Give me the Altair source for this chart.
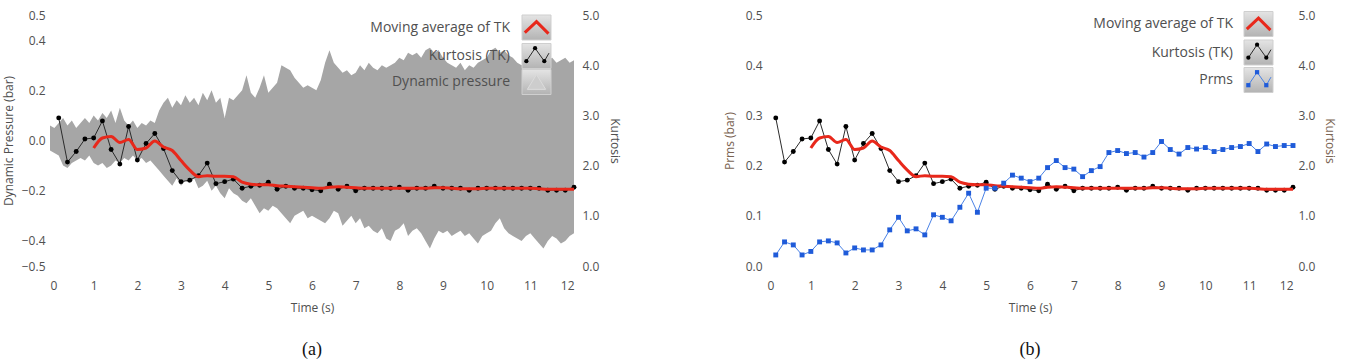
import altair as alt
import pandas as pd

# ---- data -------------------------------------------------------------
# Kurtosis of the pressure signal, one value every 0.2 s
tk_time = [round(0.2 * i, 1) for i in range(1, 61)]
tk_values = [
    2.95, 2.07, 2.28, 2.53, 2.55, 2.89, 2.32, 2.03, 2.78, 2.11,
    2.44, 2.64, 2.34, 1.90, 1.68, 1.71, 1.80, 2.05, 1.64, 1.68,
    1.73, 1.55, 1.59, 1.61, 1.67, 1.53, 1.59, 1.55, 1.55, 1.52,
    1.50, 1.63, 1.53, 1.59, 1.50, 1.55, 1.55, 1.55, 1.55, 1.57,
    1.51, 1.55, 1.55, 1.59, 1.55, 1.55, 1.55, 1.51, 1.55, 1.55,
    1.55, 1.55, 1.55, 1.55, 1.55, 1.55, 1.51, 1.51, 1.51, 1.57,
]

# Moving average of the kurtosis, from 1.0 s onwards
ma_time = [round(1.0 + 0.2 * i, 1) for i in range(56)]
ma_values = [
    2.35, 2.55, 2.58, 2.46, 2.52, 2.32, 2.35, 2.49, 2.37, 2.30,
    2.10, 1.91, 1.78, 1.80, 1.79, 1.79, 1.78, 1.67, 1.63, 1.62,
    1.62, 1.60, 1.59, 1.58, 1.57, 1.56, 1.55, 1.57, 1.58, 1.57,
    1.56, 1.55, 1.55, 1.55, 1.55, 1.55, 1.55, 1.55, 1.55, 1.56,
    1.56, 1.55, 1.54, 1.54, 1.54, 1.55, 1.55, 1.55, 1.55, 1.55,
    1.55, 1.54, 1.53, 1.53, 1.53, 1.53,
]

# RMS pressure (bar), same 0.2 s steps as the kurtosis
prms_values = [
    0.022, 0.048, 0.042, 0.022, 0.029, 0.048, 0.050, 0.046, 0.026, 0.036,
    0.032, 0.032, 0.042, 0.072, 0.097, 0.070, 0.074, 0.062, 0.102, 0.097,
    0.090, 0.117, 0.145, 0.107, 0.155, 0.155, 0.165, 0.181, 0.175, 0.168,
    0.175, 0.196, 0.210, 0.196, 0.193, 0.178, 0.190, 0.198, 0.226, 0.230,
    0.224, 0.226, 0.217, 0.226, 0.248, 0.232, 0.223, 0.236, 0.233, 0.236,
    0.228, 0.232, 0.236, 0.238, 0.244, 0.228, 0.243, 0.238, 0.240, 0.240,
]

# Envelope of the dynamic pressure trace (bar), every 0.1 s
env_time = [round(0.1 * i, 1) for i in range(121)]
env_upper = [
    0.06, 0.05, 0.07, 0.09, 0.06, 0.08, 0.05, 0.07, 0.09, 0.07,
    0.10, 0.08, 0.11, 0.09, 0.12, 0.07, 0.13, 0.08, 0.06, 0.08,
    0.05, 0.07, 0.06, 0.08, 0.07, 0.12, 0.15, 0.17, 0.13, 0.16,
    0.14, 0.18, 0.15, 0.17, 0.14, 0.19, 0.16, 0.20, 0.15, 0.17,
    0.09, 0.17, 0.16, 0.18, 0.20, 0.26, 0.19, 0.17, 0.21, 0.26,
    0.19, 0.21, 0.23, 0.30, 0.29, 0.28, 0.25, 0.23, 0.21, 0.22,
    0.21, 0.20, 0.24, 0.31, 0.36, 0.31, 0.29, 0.27, 0.28, 0.26,
    0.27, 0.30, 0.28, 0.31, 0.29, 0.28, 0.30, 0.29, 0.30, 0.31,
    0.33, 0.32, 0.35, 0.34, 0.35, 0.33, 0.36, 0.37, 0.35, 0.36,
    0.33, 0.31, 0.30, 0.29, 0.31, 0.28, 0.30, 0.29, 0.31, 0.32,
    0.33, 0.36, 0.37, 0.35, 0.36, 0.34, 0.33, 0.31, 0.30, 0.32,
    0.31, 0.33, 0.32, 0.30, 0.32, 0.33, 0.31, 0.32, 0.33, 0.31,
    0.32,
]
env_lower = [
    -0.04, -0.05, -0.06, -0.10, -0.11, -0.09, -0.08, -0.07, -0.08, -0.06,
    -0.09, -0.10, -0.09, -0.11, -0.10, -0.08, -0.09, -0.07, -0.08, -0.06,
    -0.08, -0.07, -0.09, -0.08, -0.10, -0.12, -0.14, -0.16, -0.18, -0.15,
    -0.18, -0.16, -0.17, -0.15, -0.19, -0.18, -0.16, -0.20, -0.18, -0.21,
    -0.23, -0.19, -0.21, -0.22, -0.24, -0.25, -0.23, -0.26, -0.29, -0.27,
    -0.28, -0.26, -0.27, -0.29, -0.31, -0.33, -0.30, -0.29, -0.28, -0.31,
    -0.30, -0.31, -0.32, -0.33, -0.31, -0.28, -0.29, -0.34, -0.32, -0.30,
    -0.33, -0.31, -0.35, -0.34, -0.36, -0.37, -0.35, -0.39, -0.40, -0.36,
    -0.35, -0.33, -0.38, -0.36, -0.35, -0.37, -0.40, -0.43, -0.39, -0.36,
    -0.37, -0.36, -0.38, -0.37, -0.36, -0.38, -0.37, -0.39, -0.41, -0.38,
    -0.37, -0.36, -0.33, -0.31, -0.35, -0.37, -0.38, -0.39, -0.40, -0.38,
    -0.37, -0.39, -0.41, -0.43, -0.40, -0.38, -0.39, -0.41, -0.40, -0.38,
    -0.37,
]

tk_df = pd.DataFrame({"t": tk_time, "k": tk_values, "prms": prms_values})
ma_df = pd.DataFrame({"t": ma_time, "k": ma_values})
env_df = pd.DataFrame({"t": env_time, "upper": env_upper, "lower": env_lower})
one = pd.DataFrame({"n": [0]})

# ---- styling ------------------------------------------------------------
FONT = "Open Sans"
TXT = "#505050"
GREY = "#a6a6a6"
RED = "#e8281b"
BLUE = "#1f5bd9"
BLUE_LINE = "#4a82e6"

x_enc = alt.X(
    "t:Q",
    scale=alt.Scale(domain=[0, 12], nice=False, zero=True),
    axis=alt.Axis(values=list(range(13)), format="d", title="Time (s)",
                  labelPadding=14, titlePadding=11),
)

kurt_scale = alt.Scale(domain=[0, 5], nice=False, zero=True)


def kurtosis_layers(title_color, label_pad, title_pad):
    kurt_axis = alt.Axis(orient="right", values=[0, 1, 2, 3, 4, 5], format=".1f",
                         title="Kurtosis", labelPadding=label_pad, titlePadding=title_pad,
                         titleColor=title_color)
    y_tk = alt.Y("k:Q", scale=kurt_scale, axis=kurt_axis)
    y_pts = alt.Y("k:Q", scale=kurt_scale, axis=None)
    tk_line = alt.Chart(tk_df).mark_line(color="#2b2b2b", strokeWidth=1).encode(x=x_enc, y=y_tk)
    tk_pts = alt.Chart(tk_df).mark_point(filled=True, color="#000000", size=24, opacity=1).encode(x=x_enc, y=y_pts)
    ma_line = alt.Chart(ma_df).mark_line(color=RED, strokeWidth=3, interpolate="monotone").encode(x=x_enc, y=y_pts)
    return [tk_line, tk_pts, ma_line]


box_fill = alt.Gradient(
    gradient="linear", x1=0, x2=0, y1=0, y2=1,
    stops=[alt.GradientStop(color="#e4e4e4", offset=0),
           alt.GradientStop(color="#b3b3b3", offset=1)],
)

CHEVRON = "M-0.9,0.4L0,-0.45L0.92,0.47"
ZIGZAG = "M-0.78,0.4L-0.11,-0.6L0.6,0.4L0.96,-0.22"
TRIANGLE = "M-0.75,0.6L0,-0.6L0.75,0.6Z"


def legend_row(label, text_x, box_x0, cy, kind):
    """One entry of the in-plot legend: label on the left, sample box on the right."""
    layers = []
    layers.append(alt.Chart(one).mark_text(
        text=label, align="right", baseline="middle", font=FONT, fontSize=14, color=TXT
    ).encode(x=alt.value(text_x), y=alt.value(cy)))
    layers.append(alt.Chart(one).mark_rect(
        color=box_fill, stroke="#cfcfcf", strokeWidth=1
    ).encode(x=alt.value(box_x0), x2=alt.value(box_x0 + 29),
             y=alt.value(cy - 12.5), y2=alt.value(cy + 12.5)))
    cx = box_x0 + 14.5
    if kind == "ma":
        layers.append(alt.Chart(one).mark_point(
            shape=CHEVRON, size=676, filled=False, stroke=RED, strokeWidth=3, opacity=1
        ).encode(x=alt.value(cx), y=alt.value(cy)))
    elif kind == "area":
        layers.append(alt.Chart(one).mark_point(
            shape=TRIANGLE, size=600, filled=True, fill="#cdcdcd", stroke="#dcdcdc",
            strokeWidth=1, opacity=1
        ).encode(x=alt.value(cx), y=alt.value(cy)))
    else:
        line_col, dot_col, dot_shape = (("#2b2b2b", "#000000", "circle") if kind == "tk"
                                        else (BLUE_LINE, BLUE, "square"))
        layers.append(alt.Chart(one).mark_point(
            shape=ZIGZAG, size=676, filled=False, stroke=line_col, strokeWidth=1, opacity=1
        ).encode(x=alt.value(cx), y=alt.value(cy)))
        for dx, dy in [(-0.78, 0.4), (-0.11, -0.6), (0.6, 0.4)]:
            layers.append(alt.Chart(one).mark_point(
                shape=dot_shape, size=18, filled=True, color=dot_col, opacity=1
            ).encode(x=alt.value(cx + dx * 13), y=alt.value(cy + dy * 13)))
    return layers


def caption(text):
    return alt.TitleParams(text, orient="bottom", anchor="middle", frame="group",
                           font="Liberation Serif", fontSize=18, fontWeight="normal",
                           color="#111111", offset=28)


# ---- panel (a): dynamic pressure with kurtosis ----------------------------
area_a = alt.Chart(env_df).mark_area(color=GREY, opacity=1, interpolate="linear").encode(
    x=x_enc,
    y=alt.Y("upper:Q", scale=alt.Scale(domain=[-0.5, 0.5], nice=False, zero=False),
            axis=alt.Axis(orient="left", values=[-0.5, -0.4, -0.2, 0.0, 0.2, 0.4, 0.5],
                          format=".1f", title="Dynamic Pressure (bar)",
                          labelPadding=5, titlePadding=6)),
    y2="lower:Q",
)

legend_a = []
legend_a += legend_row("Moving average of TK", 460, 472, 12.5, "ma")
legend_a += legend_row("Kurtosis (TK)", 460, 472, 41, "tk")
legend_a += legend_row("Dynamic pressure", 460, 472, 67, "area")

panel_a = alt.layer(
    area_a, *kurtosis_layers(TXT, 8, 9), *legend_a,
).resolve_scale(y="independent").properties(width=524, height=251, title=caption("(a)"))

# ---- panel (b): RMS pressure with kurtosis -------------------------------
WARM = "#7a6452"
prms_y = alt.Y("prms:Q", scale=alt.Scale(domain=[0, 0.5], nice=False, zero=True),
               axis=alt.Axis(orient="left", values=[0, 0.1, 0.2, 0.3, 0.4, 0.5], format=".1f",
                             title="Prms (bar)", labelPadding=5, titlePadding=9,
                             titleColor=WARM))
prms_y_pts = alt.Y("prms:Q", scale=alt.Scale(domain=[0, 0.5], nice=False, zero=True), axis=None)
prms_line = alt.Chart(tk_df).mark_line(color=BLUE_LINE, strokeWidth=1).encode(x=x_enc, y=prms_y)
prms_pts = alt.Chart(tk_df).mark_point(shape="square", filled=True, color=BLUE, size=24,
                                       opacity=1).encode(x=x_enc, y=prms_y_pts)

legend_b = []
legend_b += legend_row("Moving average of TK", 466, 477, 9, "ma")
legend_b += legend_row("Kurtosis (TK)", 466, 477, 37.5, "tk")
legend_b += legend_row("Prms", 466, 477, 65, "prms")

panel_b = alt.layer(
    prms_line, *kurtosis_layers(WARM, 5, 8), prms_pts, *legend_b,
).resolve_scale(y="independent").properties(width=526, height=251, title=caption("(b)"))

chart = alt.hconcat(panel_a, panel_b, spacing=102).properties(
    padding={"left": 2, "top": 9, "right": 8, "bottom": 0}
).configure_axis(
    grid=False, domain=False, ticks=False,
    labelFont=FONT, labelFontSize=12, labelColor=TXT,
    titleFont=FONT, titleFontSize=12, titleColor=TXT, titleFontWeight="normal",
).configure_view(stroke=None)

chart.save("out.html", embed_options={"renderer": "svg", "actions": False})
